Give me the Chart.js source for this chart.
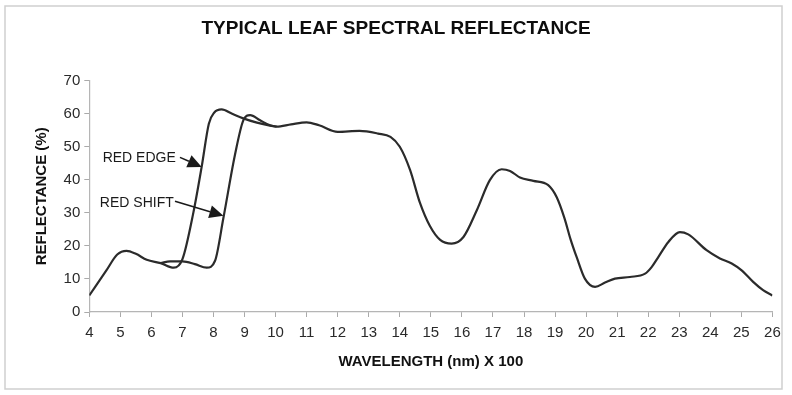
<!DOCTYPE html>
<html>
<head>
<meta charset="utf-8">
<script src="https://cdn.jsdelivr.net/npm/chart.js@4/dist/chart.umd.min.js"></script>
<style>
  html, body { margin: 0; padding: 0; background: #fff; }
  #wrap { width: 792px; height: 395px; position: relative; }
</style>
</head>
<body>
<div id="wrap"><canvas id="c" width="792" height="395"></canvas></div>
<script>
// ---- Data ----
const chartTitle = 'TYPICAL LEAF SPECTRAL REFLECTANCE';
const xAxisTitle = 'WAVELENGTH (nm) X 100';
const yAxisTitle = 'REFLECTANCE (%)';

// main curve (red edge), wavelength in units of 100 nm
const wavelength = [4.0, 4.55, 4.9, 5.2, 5.5, 5.85, 6.3, 6.72, 7.0, 7.35, 7.62, 7.85, 8.02, 8.26, 8.6, 8.96, 9.4, 9.82, 10.03,
  10.5, 11.0, 11.4, 12.0, 12.7, 13.3, 13.7, 14.0, 14.33, 14.65, 14.97, 15.3, 15.67, 16.05, 16.48, 16.9, 17.28, 17.55,
  17.87, 18.3, 18.78, 19.05, 19.3, 19.5, 19.7, 19.96, 20.29, 20.61, 20.93, 21.41, 21.9, 22.11, 22.33, 22.65, 23.02,
  23.29, 23.88, 24.31, 24.69, 25.01, 25.38, 25.7, 26.0];
const reflectance = [5.0, 12.6, 17.4, 18.5, 17.6, 15.8, 14.8, 13.4, 16.0, 30.0, 44.0, 57.0, 60.3, 61.3, 60.0, 58.6, 57.3, 56.4, 56.1,
  56.8, 57.4, 56.5, 54.5, 54.8, 54.0, 53.0, 50.0, 43.0, 33.0, 26.0, 21.8, 20.7, 22.7, 30.8, 39.9, 43.2, 42.7,
  40.7, 39.7, 38.4, 34.8, 28.5, 22.0, 16.5, 10.1, 7.6, 8.9, 10.1, 10.6, 11.6, 13.6, 16.7, 21.2, 24.2,
  23.5, 18.7, 16.2, 14.7, 12.6, 9.1, 6.6, 5.0];

// shifted curve (red shift), only where it departs from the main curve
const shiftWavelength = [6.3, 6.6, 7.0, 7.4, 7.78, 8.05, 8.32, 8.69, 8.96, 9.18, 9.5, 9.82, 10.03];
const shiftReflectance = [14.8, 15.3, 15.3, 14.5, 13.4, 15.5, 28.5, 47.5, 58.0, 59.6, 58.0, 56.5, 56.1];

// axis ranges / ticks
const xTickMin = 4, xTickMax = 26, xTickStep = 1;
const yTickMin = 0, yTickMax = 70, yTickStep = 10;

// annotations: label, label anchor (x,y), arrow start (x,y), arrow tip (x,y) in data units
const annotLabels = ['RED EDGE', 'RED SHIFT'];
const annotTextX = [4.43, 4.34];
const annotTextY = [46.5, 32.8];
const annotFromX = [6.92, 6.76];
const annotFromY = [46.8, 33.5];
const annotToX = [7.62, 8.32];
const annotToY = [43.9, 29.1];

// ---- Build chart ----
const toPts = (xs, ys) => xs.map((x, i) => ({ x: x, y: ys[i] }));
const FONT = "'Liberation Sans', Arial, Helvetica, sans-serif";
const LINE = '#2b2b2b';

const decorPlugin = {
  id: 'decor',
  beforeDraw(chart) {
    const ctx = chart.ctx;
    ctx.save();
    ctx.fillStyle = '#ffffff';
    ctx.fillRect(0, 0, chart.width, chart.height);
    ctx.strokeStyle = '#cfcfcf';
    ctx.lineWidth = 1.5;
    ctx.strokeRect(5, 6, 777, 383);
    ctx.fillStyle = '#0d0d0d';
    ctx.font = 'bold 19px ' + FONT;
    ctx.textAlign = 'center';
    ctx.textBaseline = 'middle';
    ctx.fillText(chartTitle, 396, 29);
    ctx.restore();
  },
  afterDatasetsDraw(chart) {
    const ctx = chart.ctx;
    const xs = chart.scales.x, ys = chart.scales.y;
    ctx.save();
    ctx.font = '14px ' + FONT;
    ctx.fillStyle = '#1a1a1a';
    ctx.textAlign = 'left';
    ctx.textBaseline = 'middle';
    annotLabels.forEach((lab, i) => {
      ctx.fillText(lab, xs.getPixelForValue(annotTextX[i]), ys.getPixelForValue(annotTextY[i]));
      const x0 = xs.getPixelForValue(annotFromX[i]), y0 = ys.getPixelForValue(annotFromY[i]);
      const x1 = xs.getPixelForValue(annotToX[i]), y1 = ys.getPixelForValue(annotToY[i]);
      const ang = Math.atan2(y1 - y0, x1 - x0);
      const hl = 14, hw = 6.5;
      const bx = x1 - hl * Math.cos(ang), by = y1 - hl * Math.sin(ang);
      ctx.strokeStyle = '#1a1a1a';
      ctx.lineWidth = 1.6;
      ctx.beginPath();
      ctx.moveTo(x0, y0);
      ctx.lineTo(bx, by);
      ctx.stroke();
      ctx.beginPath();
      ctx.moveTo(x1, y1);
      ctx.lineTo(bx + hw * Math.sin(ang), by - hw * Math.cos(ang));
      ctx.lineTo(bx - hw * Math.sin(ang), by + hw * Math.cos(ang));
      ctx.closePath();
      ctx.fill();
    });
    ctx.restore();
  }
};

new Chart(document.getElementById('c'), {
  type: 'scatter',
  data: {
    datasets: [
      { label: 'Red edge', data: toPts(wavelength, reflectance) },
      { label: 'Red shift', data: toPts(shiftWavelength, shiftReflectance) }
    ]
  },
  options: {
    responsive: false,
    animation: false,
    showLine: true,
    layout: { padding: { top: 80.7, left: 26, right: 19.6, bottom: 0 } },
    elements: {
      point: { radius: 0, hoverRadius: 0 },
      line: { borderColor: LINE, borderWidth: 2.2, cubicInterpolationMode: 'monotone', fill: false }
    },
    plugins: {
      legend: { display: false },
      title: { display: false },
      tooltip: { enabled: false }
    },
    scales: {
      x: {
        type: 'linear',
        min: xTickMin, max: xTickMax,
        afterFit(s) { s.height = 83; },
        ticks: { stepSize: xTickStep, color: '#2a2a2a', font: { family: FONT, size: 15 }, padding: 7, maxRotation: 0, autoSkip: false },
        grid: { display: true, drawOnChartArea: false, drawTicks: true, tickLength: 5, color: '#aaa' },
        border: { display: true, color: '#b5b5b5', width: 1.2 },
        title: { display: true, text: xAxisTitle, color: '#111', font: { family: FONT, size: 15, weight: 'bold' }, padding: { top: 0, bottom: 24.3 } }
      },
      y: {
        type: 'linear',
        min: yTickMin, max: yTickMax,
        afterFit(s) { s.width = 89.3 - 26; },
        ticks: { stepSize: yTickStep, color: '#2a2a2a', font: { family: FONT, size: 15 }, padding: 4 },
        grid: { display: true, drawOnChartArea: false, drawTicks: true, tickLength: 5, color: '#aaa' },
        border: { display: true, color: '#b5b5b5', width: 1.2, dash: [2, 2] },
        title: { display: true, text: yAxisTitle, color: '#111', font: { family: FONT, size: 15, weight: 'bold' }, padding: { top: 6.5, bottom: 0 } }
      }
    }
  },
  plugins: [decorPlugin]
});
</script>
</body>
</html>
